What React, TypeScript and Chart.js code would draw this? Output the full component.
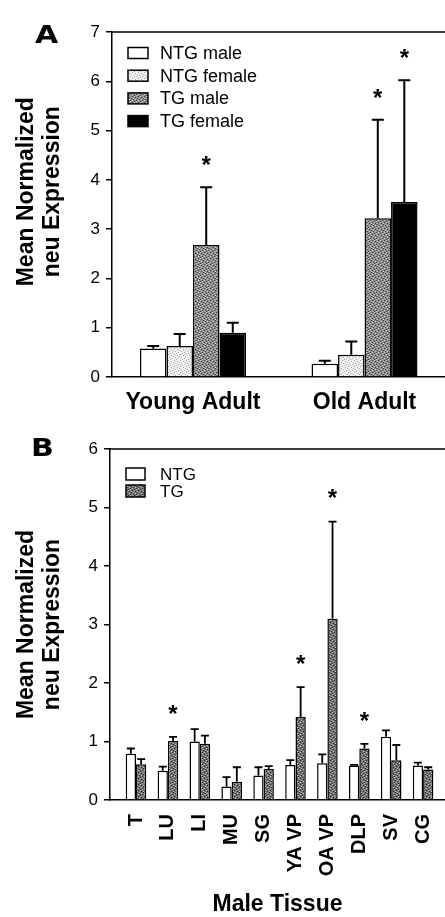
import React, { useEffect, useRef } from 'react';
import { Chart, registerables } from 'chart.js';

Chart.register(...registerables);

const FONT = "'Liberation Sans', Arial, sans-serif";

// ---- Panel A data ----
const ageGroups = ['Young Adult', 'Old Adult'];
const ntgMale = [0.58, 0.27];
const ntgMaleErr = [0.63, 0.33];
const ntgFemale = [0.63, 0.45];
const ntgFemaleErr = [0.87, 0.72];
const tgMale = [2.68, 3.22];
const tgMaleErr = [3.85, 5.22];
const tgMaleSig = [true, true];
const tgFemale = [0.9, 3.55];
const tgFemaleErr = [1.1, 6.02];
const tgFemaleSig = [false, true];
const yTicksA = [0, 1, 2, 3, 4, 5, 6, 7];

// ---- Panel B data ----
const tissues = ['T', 'LU', 'LI', 'MU', 'SG', 'YA VP', 'OA VP', 'DLP', 'SV', 'CG'];
const ntg = [0.79, 0.5, 1.0, 0.23, 0.42, 0.6, 0.63, 0.59, 1.08, 0.59];
const ntgErr = [0.88, 0.57, 1.21, 0.39, 0.56, 0.68, 0.78, 0.6, 1.19, 0.64];
const tg = [0.61, 1.01, 0.96, 0.31, 0.53, 1.42, 3.1, 0.88, 0.68, 0.52];
const tgErr = [0.7, 1.08, 1.1, 0.56, 0.58, 1.93, 4.76, 0.96, 0.94, 0.56];
const tgSig = [false, true, false, false, false, true, true, true, false, false];
const yTicksB = [0, 1, 2, 3, 4, 5, 6];

const yTitle = ['Mean Normalized', 'neu Expression'];

function stipple(base: string, dark: string, light: string): CanvasPattern | string {
  const c = document.createElement('canvas');
  c.width = 6;
  c.height = 6;
  const g = c.getContext('2d');
  if (!g) return base;
  g.fillStyle = base;
  g.fillRect(0, 0, 6, 6);
  const darkPts = [[0, 0], [3, 1], [1, 3], [4, 4], [2, 5], [5, 2]];
  const lightPts = [[2, 0], [5, 1], [0, 4], [3, 3], [4, 5], [1, 2]];
  g.fillStyle = dark;
  darkPts.forEach(([x, y]) => g.fillRect(x, y, 1, 1));
  g.fillStyle = light;
  lightPts.forEach(([x, y]) => g.fillRect(x, y, 1, 1));
  return g.createPattern(c, 'repeat') || base;
}

const extrasPlugin = {
  id: 'panelExtras',
  afterDatasetsDraw(chart: any, _args: any, opts: any) {
    const ctx = chart.ctx;
    const yScale = chart.scales.y;
    const area = chart.chartArea;
    ctx.save();
    // top frame line
    ctx.strokeStyle = '#000';
    ctx.lineWidth = 1.5;
    ctx.beginPath();
    ctx.moveTo(area.left, area.top);
    ctx.lineTo(area.right, area.top);
    ctx.stroke();

    // error bars and significance stars
    chart.data.datasets.forEach((ds: any, di: number) => {
      const meta = chart.getDatasetMeta(di);
      meta.data.forEach((bar: any, i: number) => {
        const top = yScale.getPixelForValue(ds.errTop[i]);
        ctx.strokeStyle = '#000';
        ctx.lineWidth = opts.errWidth;
        ctx.beginPath();
        ctx.moveTo(bar.x, bar.y);
        ctx.lineTo(bar.x, top);
        ctx.moveTo(bar.x - opts.cap / 2, top);
        ctx.lineTo(bar.x + opts.cap / 2, top);
        ctx.stroke();
        if (ds.sig && ds.sig[i]) {
          ctx.fillStyle = '#000';
          ctx.font = `bold ${opts.starSize}px ${FONT}`;
          ctx.textAlign = 'center';
          ctx.textBaseline = 'alphabetic';
          const cy = top - opts.starGap;
          ctx.fillText('*', bar.x, cy + opts.starSize * 0.58);
        }
      });
    });

    // legend inside plot area
    chart.data.datasets.forEach((ds: any, di: number) => {
      const ry = area.top + opts.legendTop + di * opts.legendGap;
      const bx = area.left + opts.legendLeft;
      ctx.fillStyle = ds.backgroundColor;
      ctx.fillRect(bx, ry - opts.boxH / 2, opts.boxW, opts.boxH);
      ctx.strokeStyle = '#000';
      ctx.lineWidth = 1.5;
      ctx.strokeRect(bx, ry - opts.boxH / 2, opts.boxW, opts.boxH);
      ctx.fillStyle = '#000';
      ctx.font = `${opts.legendFont}px ${FONT}`;
      ctx.textAlign = 'left';
      ctx.textBaseline = 'middle';
      ctx.fillText(ds.label, area.left + opts.textLeft, ry + 1);
    });
    ctx.restore();
  },
};

function yAxis(ticks: number[], width: number, titleLines: string[]) {
  return {
    min: ticks[0],
    max: ticks[ticks.length - 1],
    afterBuildTicks: (s: any) => {
      s.ticks = ticks.map((v) => ({ value: v }));
    },
    ticks: { color: '#000', font: { family: FONT, size: 17 }, padding: 6 },
    grid: {
      display: true,
      drawOnChartArea: false,
      drawTicks: true,
      tickLength: 6,
      color: '#000',
      lineWidth: 1.5,
    },
    border: { display: true, color: '#000', width: 1.5 },
    title: {
      display: true,
      text: titleLines,
      color: '#000',
      font: { family: FONT, size: 23, weight: 'bold', lineHeight: 1.13 },
      padding: { top: 14, bottom: 0 },
    },
    afterFit: (s: any) => {
      s.width = width;
    },
  };
}

function fixHeight(h: number) {
  return (s: any) => {
    s.height = h;
    s.paddingLeft = 0;
    s.paddingRight = 0;
  };
}

export default function App() {
  const refA = useRef<HTMLCanvasElement>(null);
  const refB = useRef<HTMLCanvasElement>(null);

  useEffect(() => {
    if (!refA.current || !refB.current) return;
    const femaleFill = stipple('#ececec', '#a8a8a8', '#ffffff');
    const tgMaleFill = stipple('#8a8a8a', '#3c3c3c', '#cfcfcf');
    const tgFill = stipple('#727272', '#262626', '#bdbdbd');

    const toXY = (vals: number[]) => vals.map((v, i) => ({ x: i, y: v }));

    const chartA = new Chart(refA.current, {
      type: 'bar',
      data: {
        datasets: [
          { label: 'NTG male', data: toXY(ntgMale), backgroundColor: '#ffffff', errTop: ntgMaleErr } as any,
          { label: 'NTG female', data: toXY(ntgFemale), backgroundColor: femaleFill, errTop: ntgFemaleErr } as any,
          { label: 'TG male', data: toXY(tgMale), backgroundColor: tgMaleFill, errTop: tgMaleErr, sig: tgMaleSig } as any,
          { label: 'TG female', data: toXY(tgFemale), backgroundColor: '#000000', errTop: tgFemaleErr, sig: tgFemaleSig } as any,
        ],
      },
      options: {
        animation: false,
        responsive: true,
        maintainAspectRatio: false,
        events: [],
        layout: { padding: { left: 0, top: 32, right: 0, bottom: 0 } },
        datasets: {
          bar: {
            borderColor: '#000',
            borderWidth: 1.5,
            categoryPercentage: 0.618,
            barPercentage: 1,
          },
        },
        scales: {
          x: {
            type: 'linear',
            min: -0.472,
            max: 1.469,
            offset: false,
            bounds: 'data',
            afterBuildTicks: (s: any) => {
              s.ticks = ageGroups.map((_, i) => ({ value: i }));
            },
            ticks: {
              callback: (v: any) => ageGroups[v] ?? '',
              color: '#000',
              font: { family: FONT, size: 23, weight: 'bold' },
              padding: 12,
              maxRotation: 0,
              autoSkip: false,
            },
            grid: { display: false, drawTicks: false },
            border: { display: true, color: '#000', width: 1.5 },
            afterFit: fixHeight(53),
          } as any,
          // leading spaces lift the rotated title slightly, as in the original
          y: yAxis(yTicksA, 112, yTitle.map((t) => '    ' + t)) as any,
        },
        plugins: {
          legend: { display: false },
          tooltip: { enabled: false },
          panelExtras: {
            errWidth: 2,
            cap: 12,
            starSize: 24,
            starGap: 28,
            legendTop: 21,
            legendGap: 22.7,
            legendLeft: 16,
            textLeft: 48,
            boxW: 20,
            boxH: 11,
            legendFont: 18,
          },
        } as any,
      },
      plugins: [extrasPlugin],
    });

    const chartB = new Chart(refB.current, {
      type: 'bar',
      data: {
        datasets: [
          { label: 'NTG', data: toXY(ntg), backgroundColor: '#ffffff', errTop: ntgErr } as any,
          { label: 'TG', data: toXY(tg), backgroundColor: tgFill, errTop: tgErr, sig: tgSig } as any,
        ],
      },
      options: {
        animation: false,
        responsive: true,
        maintainAspectRatio: false,
        events: [],
        layout: { padding: { left: 0, top: 19, right: 0, bottom: 0 } },
        datasets: {
          bar: {
            borderColor: '#000',
            borderWidth: 1.5,
            categoryPercentage: 0.645,
            barPercentage: 1,
          },
        },
        scales: {
          x: {
            type: 'linear',
            min: -0.815,
            max: 9.687,
            offset: false,
            bounds: 'data',
            afterBuildTicks: (s: any) => {
              s.ticks = tissues.map((_, i) => ({ value: i }));
            },
            ticks: {
              callback: (v: any) => tissues[v] ?? '',
              color: '#000',
              font: { family: FONT, size: 20, weight: 'bold' },
              padding: 14,
              minRotation: 90,
              maxRotation: 90,
              autoSkip: false,
            },
            grid: { display: false, drawTicks: false },
            border: { display: true, color: '#000', width: 1.5 },
            title: {
              display: true,
              text: 'Male Tissue',
              color: '#000',
              font: { family: FONT, size: 23, weight: 'bold', lineHeight: 1 },
              padding: { top: 0, bottom: 1 },
            },
            afterFit: fixHeight(117),
          } as any,
          y: yAxis(yTicksB, 110, yTitle) as any,
        },
        plugins: {
          legend: { display: false },
          tooltip: { enabled: false },
          panelExtras: {
            errWidth: 1.8,
            cap: 8,
            starSize: 24,
            starGap: 29,
            legendTop: 25,
            legendGap: 17,
            legendLeft: 16,
            textLeft: 50,
            boxW: 19,
            boxH: 12,
            legendFont: 17,
          },
        } as any,
      },
      plugins: [extrasPlugin],
    });

    return () => {
      chartA.destroy();
      chartB.destroy();
    };
  }, []);

  const letter: React.CSSProperties = {
    position: 'absolute',
    fontFamily: "'DejaVu Sans', sans-serif",
    fontWeight: 'bold',
    fontSize: 24,
    lineHeight: '24px',
    transform: 'scaleX(1.25)',
    transformOrigin: 'left top',
    color: '#000',
  };

  return (
    <div
      style={{
        position: 'absolute',
        left: 0,
        top: 0,
        width: 445,
        height: 917,
        overflow: 'hidden',
        background: '#fff',
      }}
    >
      <div style={{ position: 'absolute', left: 0, top: 0, width: 445, height: 430 }}>
        <canvas ref={refA} />
      </div>
      <div style={{ position: 'absolute', left: 0, top: 430, width: 445, height: 487 }}>
        <canvas ref={refB} />
      </div>
      <div style={{ ...letter, left: 35, top: 23 }}>A</div>
      <div style={{ ...letter, left: 31, top: 436 }}>B</div>
    </div>
  );
}
